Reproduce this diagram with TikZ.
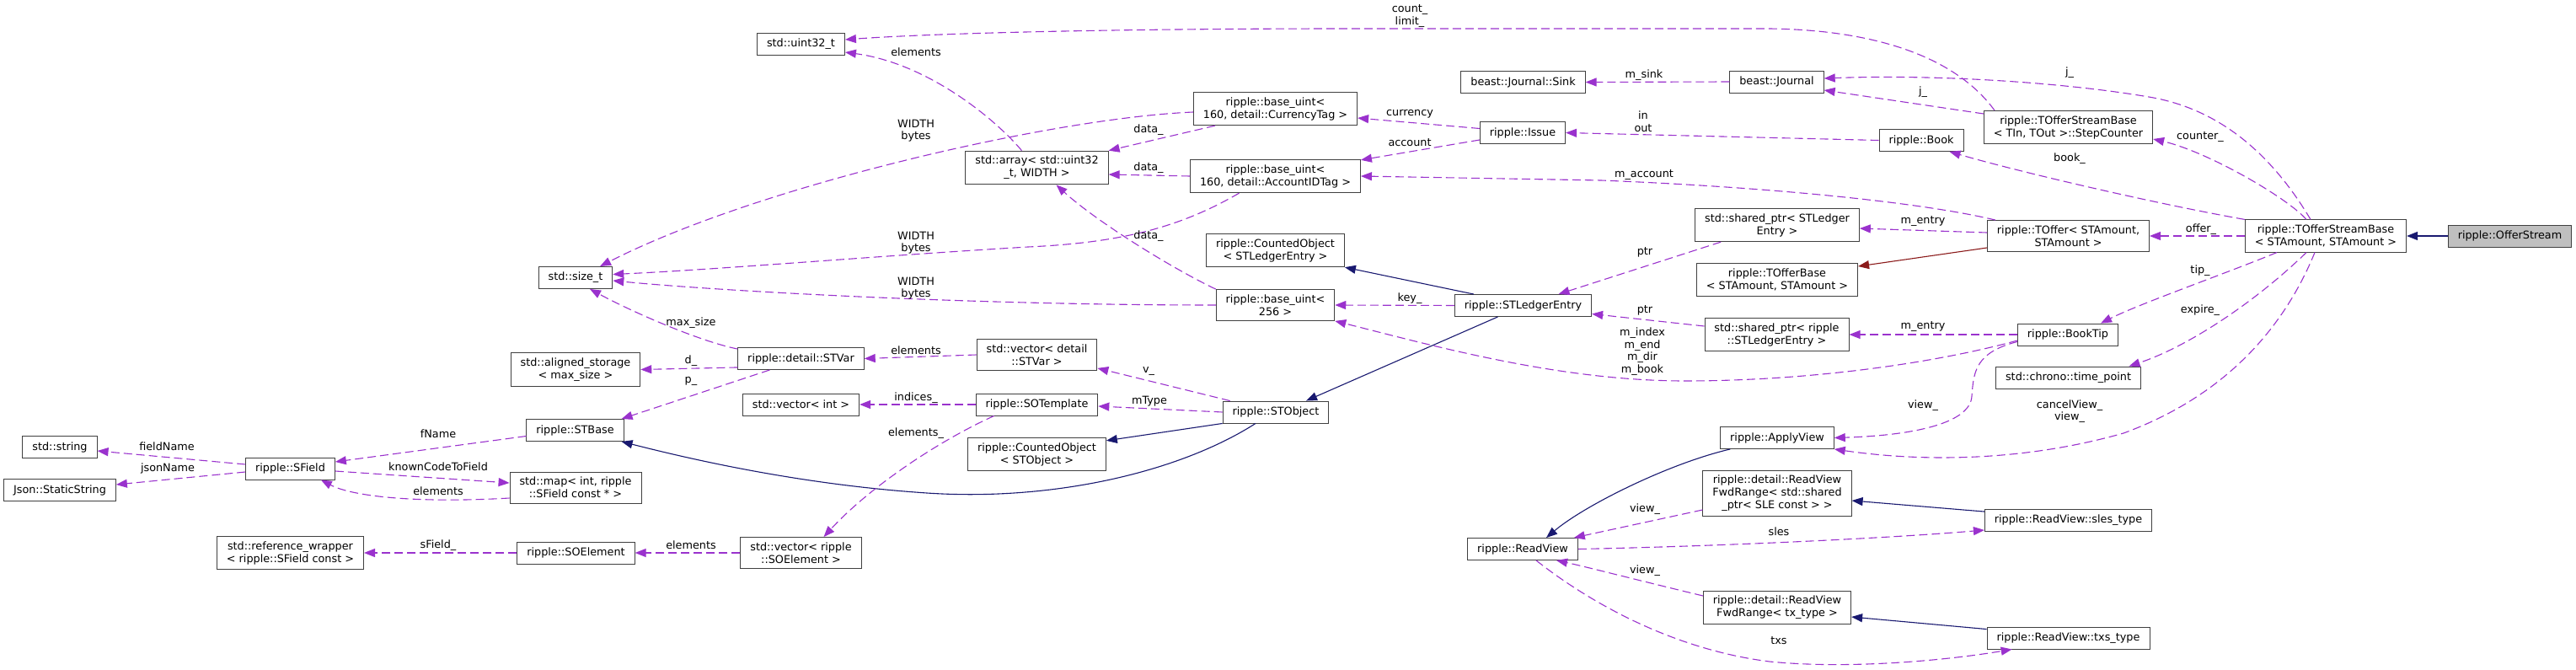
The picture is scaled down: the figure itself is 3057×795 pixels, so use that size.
\documentclass[tikz,border=0pt]{standalone}
\usepackage{fontspec}
\setmainfont{DejaVu Sans}
\usetikzlibrary{arrows.meta}

\definecolor{usecol}{HTML}{9A32CD}
\definecolor{pubcol}{HTML}{191970}
\definecolor{protcol}{HTML}{8B1A1A}
\definecolor{ofsgray}{HTML}{BFBFBF}

\begin{document}
\begin{tikzpicture}[x=1pt, y=-1pt,
    >={Triangle[length=13pt,width=10pt]},
    box/.style={draw=black!75, fill=white, line width=0.9pt, align=center,
        font=\fontsize{12.8}{15}\selectfont, inner xsep=11.5pt, inner ysep=6pt,
        minimum height=26pt},
    lbl/.style={font=\fontsize{12.8}{14.5}\selectfont, align=center, inner sep=0pt},
    use/.style={->, draw=usecol, line width=1.1pt, dash pattern=on 10pt off 5pt},
    pub/.style={->, draw=pubcol, line width=1.1pt},
    prot/.style={->, draw=protcol, line width=1.1pt}]

        \useasboundingbox (0,0) rectangle (3057,795);

        % classes
        \node[box, fill=ofsgray] (ofs) at (2978.5,280) {ripple::OfferStream};
        \node[box] (tosb) at (2760,280) {ripple::TOfferStreamBase\\< STAmount, STAmount >};
        \node[box] (stepc) at (2454.5,151) {ripple::TOfferStreamBase\\< TIn, TOut >::StepCounter};
        \node[box] (journal) at (2108.5,97) {beast::Journal};
        \node[box] (sink) at (1807.5,97.5) {beast::Journal::Sink};
        \node[box] (book) at (2280,166.5) {ripple::Book};
        \node[box] (toffer) at (2454.5,280) {ripple::TOffer< STAmount,\\STAmount >};
        \node[box] (booktip) at (2454,397) {ripple::BookTip};
        \node[box] (timept) at (2454.5,448) {std::chrono::time\_point};
        \node[box] (applyview) at (2109,519.5) {ripple::ApplyView};
        \node[box] (uint32) at (950.5,52) {std::uint32\_t};
        \node[box] (issue) at (1807,157.5) {ripple::Issue};
        \node[box] (curtag) at (1513.5,129) {ripple::base\_uint<\\160, detail::CurrencyTag >};
        \node[box] (acctag) at (1513.5,209) {ripple::base\_uint<\\160, detail::AccountIDTag >};
        \node[box] (spled) at (2109,267) {std::shared\_ptr< STLedger\\Entry >};
        \node[box] (tobase) at (2109,332) {ripple::TOfferBase\\< STAmount, STAmount >};
        \node[box] (spled2) at (2108.5,397) {std::shared\_ptr< ripple\\::STLedgerEntry >};
        \node[box] (sle) at (1807.5,362.5) {ripple::STLedgerEntry};
        \node[box] (coledger) at (1513.5,297) {ripple::CountedObject\\< STLedgerEntry >};
        \node[box] (uint256) at (1513.5,362) {ripple::base\_uint<\\256 >};
        \node[box] (stobj) at (1514,489) {ripple::STObject};
        \node[box] (stbase) at (682.5,510.5) {ripple::STBase};
        \node[box] (coobj) at (1230.5,539) {ripple::CountedObject\\< STObject >};
        \node[box] (vecstvar) at (1230.5,421) {std::vector< detail\\::STVar >};
        \node[box] (sotempl) at (1230.5,480) {ripple::SOTemplate};
        \node[box] (stvar) at (950.5,425.5) {ripple::detail::STVar};
        \node[box] (vecint) at (950.5,480) {std::vector< int >};
        \node[box] (vecsoe) at (950.5,656) {std::vector< ripple\\::SOElement >};
        \node[box] (soelem) at (683.5,656) {ripple::SOElement};
        \node[box] (refwrap) at (344.5,656) {std::reference\_wrapper\\< ripple::SField const >};
        \node[box] (aligned) at (683,438.5) {std::aligned\_storage\\< max\_size >};
        \node[box] (sizet) at (683,329.5) {std::size\_t};
        \node[box] (sfield) at (344.5,556) {ripple::SField};
        \node[box] (stdstring) at (71,530.5) {std::string};
        \node[box] (json) at (71,581.5) {Json::StaticString};
        \node[box] (smap) at (683,578.5) {std::map< int, ripple\\::SField const * >};
        \node[box] (stdarray) at (1230.5,199) {std::array< std::uint32\\\_t, WIDTH >};
        \node[box] (readview) at (1807,651.5) {ripple::ReadView};
        \node[box] (fwdsle) at (2109,585.5) {ripple::detail::ReadView\\FwdRange< std::shared\\\_ptr< SLE const > >};
        \node[box] (fwdtx) at (2109,721) {ripple::detail::ReadView\\FwdRange< tx\_type >};
        \node[box] (slestype) at (2454.5,617.5) {ripple::ReadView::sles\_type};
        \node[box] (txstype) at (2454.5,757) {ripple::ReadView::txs\_type};

        % inheritance
        \draw[pub] (ofs.west) -- (tosb.east);
        \draw[prot] ([yshift=-14pt]toffer.west) -- ([yshift=16pt]tobase.east);
        \draw[pub] ([xshift=23pt]sle.north west) -- (coledger.south east);
        \draw[pub] ([xshift=-30pt]sle.south) -- ([xshift=36pt]stobj.north);
        \draw[pub] ([xshift=-24pt]stobj.south) .. controls (1400,560) and (1250,595) .. (1100,585)
            .. controls (950,575) and (820,545) .. ([xshift=-3pt]stbase.south east);
        \draw[pub] (stobj.south west) -- ([yshift=-4pt]coobj.north east);
        \draw[pub] ([xshift=12pt]applyview.south west) .. controls (1980,550) and (1880,600) .. ([xshift=28pt]readview.north);
        \draw[pub] ([yshift=-3pt]slestype.north west) -- ([yshift=-8.5pt]fwdsle.east);
        \draw[pub] ([yshift=-3pt]txstype.north west) -- ([yshift=-11pt]fwdtx.east);

        % members of TOfferStreamBase
        \draw[use] ([xshift=-23pt]tosb.north) .. controls (2715,235) and (2620,180) .. ([yshift=-14pt]stepc.east);
        \draw[use] ([xshift=-18pt]tosb.north) .. controls (2700,190) and (2640,130) .. (2550,115)
            .. controls (2450,98) and (2300,88) .. ([yshift=4pt]journal.east);
        \draw[use] (tosb.north west) .. controls (2560,242) and (2400,205) .. ([xshift=-17pt]book.south east);
        \draw[use] (tosb.west) -- (toffer.east);
        \draw[use] ([xshift=-58pt]tosb.south) .. controls (2640,325) and (2540,360) .. ([xshift=39pt]booktip.north);
        \draw[use] ([xshift=-23pt]tosb.south) .. controls (2680,355) and (2600,410) .. ([xshift=72pt]timept.north);
        \draw[use] ([xshift=-13pt]tosb.south) .. controls (2710,390) and (2640,470) .. (2520,514)
            .. controls (2400,548) and (2280,548) .. (applyview.south east);

        % StepCounter, Journal, Book, Issue
        \draw[use] ([xshift=13pt]stepc.north west) .. controls (2330,80) and (2250,36) .. (2100,34) -- (1600,34)
            .. controls (1300,34) and (1100,40) .. ([yshift=5pt]uint32.east);
        \draw[use] ([yshift=16pt]stepc.west) -- ([yshift=-10pt]journal.east);
        \draw[use] (journal.west) -- (sink.east);
        \draw[use] (book.west) -- (issue.east);
        \draw[use] ([yshift=5pt]issue.west) -- ([yshift=-11pt]curtag.east);
        \draw[use] ([yshift=-8.5pt]issue.west) -- ([yshift=-1pt]acctag.north east);

        % TOffer, shared_ptr, BookTip
        \draw[use] ([xshift=10pt]toffer.north west) .. controls (2280,240) and (2100,222) .. (1900,214) -- (acctag.east);
        \draw[use] ([yshift=4pt]toffer.west) -- ([yshift=-4pt]spled.east);
        \draw[use] ([xshift=31pt]spled.south west) -- ([xshift=42pt]sle.north);
        \draw[use] ([yshift=10pt]spled2.west) -- ([yshift=-10pt]sle.east);
        \draw[use] (booktip.west) -- (spled2.east);
        \draw[use] ([yshift=-7pt]booktip.west) .. controls (2300,430) and (2150,452) .. (2000,452)
            .. controls (1850,452) and (1700,410) .. (uint256.south east);
        \draw[use] ([yshift=5pt]booktip.south west) .. controls (2345,418) and (2342,440) .. (2340,470)
            .. controls (2338,505) and (2260,517) .. (applyview.east);

        % STLedgerEntry, STObject, SOTemplate
        \draw[use] (sle.west) -- (uint256.east);
        \draw[use] ([xshift=9pt]stobj.north west) -- ([yshift=3pt]vecstvar.south east);
        \draw[use] (stobj.west) -- ([yshift=-2pt]sotempl.east);
        \draw[use] (vecstvar.west) -- (stvar.east);
        \draw[use] (sotempl.west) -- (vecint.east);
        \draw[use] ([xshift=22pt]sotempl.south west) .. controls (1110,525) and (1030,580) .. ([xshift=27pt]vecsoe.north);
        \draw[use] (vecsoe.west) -- (soelem.east);
        \draw[use] (soelem.west) -- (refwrap.east);

        % STVar, STBase, SField
        \draw[use] ([yshift=3pt]stvar.south west) -- (aligned.east);
        \draw[use] ([xshift=-37pt]stvar.south) -- ([xshift=-3pt]stbase.north east);
        \draw[use] ([yshift=-2pt]stvar.north west) .. controls (830,405) and (750,370) .. ([xshift=17pt]sizet.south);
        \draw[use] ([yshift=-7pt]stbase.west) -- ([yshift=8pt]sfield.east);
        \draw[use] ([yshift=5pt]sfield.west) -- ([yshift=-4.5pt]stdstring.east);
        \draw[use] ([yshift=-4pt]sfield.west) -- ([yshift=6.5pt]json.east);
        \draw[use] ([yshift=-3pt]sfield.east) -- ([yshift=5.5pt]smap.west);
        \draw[use] ([yshift=-12.5pt]smap.west) .. controls (500,597) and (420,590) .. ([xshift=-17pt]sfield.south east);

        % base_uint and std::array
        \draw[use] (uint256.north west) .. controls (1390,318) and (1300,262) .. ([xshift=23pt]stdarray.south);
        \draw[use] (uint256.west) .. controls (1150,362) and (850,345) .. ([yshift=-3.5pt]sizet.east);
        \draw[use] ([xshift=26pt]curtag.south west) -- (stdarray.north east);
        \draw[use] ([yshift=-4pt]curtag.west) .. controls (1250,140) and (900,220) .. ([xshift=29pt]sizet.north);
        \draw[use] (acctag.west) -- ([yshift=-8pt]stdarray.east);
        \draw[use] ([xshift=-43pt]acctag.south) .. controls (1400,270) and (1330,288) .. (1220,293)
            .. controls (1050,303) and (850,320) .. ([yshift=4pt]sizet.east);
        \draw[use] ([xshift=-18pt]stdarray.north) .. controls (1180,140) and (1100,75) .. ([yshift=-10pt]uint32.east);

        % ReadView
        \draw[use] ([yshift=-19.5pt]fwdsle.west) -- ([xshift=-5pt]readview.north east);
        \draw[use] (readview.east) .. controls (2050,648) and (2250,638) .. ([yshift=2pt]slestype.south west);
        \draw[use] ([yshift=14pt]fwdtx.west) .. controls (1950,690) and (1880,672) .. ([xshift=40pt]readview.south);
        \draw[use] ([xshift=16pt]readview.south) .. controls (1880,710) and (1980,770) .. (2100,785)
            .. controls (2200,795) and (2320,782) .. ([xshift=30pt]txstype.south west);

        % labels
        \node[lbl] (lCounter) at (2611,163) {counter\_};
        \node[lbl] (lJtop) at (2456,86) {j\_};
        \node[lbl] (lBook) at (2456,188) {book\_};
        \node[lbl] (lOffer) at (2612,272) {offer\_};
        \node[lbl] (lTip) at (2611,321) {tip\_};
        \node[lbl] (lExpire) at (2611,368) {expire\_};
        \node[lbl] (lCancel) at (2456,488) {cancelView\_\\view\_};
        \node[lbl] (lCount) at (1673,19) {count\_\\limit\_};
        \node[lbl] (lJlow) at (2282,109) {j\_};
        \node[lbl] (lSink) at (1951,89) {m\_sink};
        \node[lbl] (lInOut) at (1950,144) {in\\out};
        \node[lbl] (lCurrency) at (1673,135) {currency};
        \node[lbl] (lAccount) at (1673,169) {account};
        \node[lbl] (lMAccount) at (1951,208) {m\_account};
        \node[lbl] (lEntryA) at (2282,263) {m\_entry};
        \node[lbl] (lPtrA) at (1952,299) {ptr};
        \node[lbl] (lPtrB) at (1952,368) {ptr};
        \node[lbl] (lEntryB) at (2282,388) {m\_entry};
        \node[lbl] (lIndex) at (1949,417) {m\_index\\m\_end\\m\_dir\\m\_book};
        \node[lbl] (lViewA) at (2282,481) {view\_};
        \node[lbl] (lKey) at (1673,354) {key\_};
        \node[lbl] (lV) at (1363,441) {v\_};
        \node[lbl] (lMType) at (1364,476) {mType};
        \node[lbl] (lElemA) at (1087,416) {elements};
        \node[lbl] (lIndices) at (1087,472) {indices\_};
        \node[lbl] (lElemB) at (1087,514) {elements\_};
        \node[lbl] (lElemC) at (820,647) {elements};
        \node[lbl] (lSField) at (520,647) {sField\_};
        \node[lbl] (lD) at (820,428) {d\_};
        \node[lbl] (lP) at (820,452) {p\_};
        \node[lbl] (lMaxSize) at (820,383) {max\_size};
        \node[lbl] (lFName) at (520,515) {fName};
        \node[lbl] (lFieldName) at (198,530) {fieldName};
        \node[lbl] (lJsonName) at (199,556) {jsonName};
        \node[lbl] (lKnown) at (520,554) {knownCodeToField};
        \node[lbl] (lElemD) at (520,583) {elements};
        \node[lbl] (lDataA) at (1363,280) {data\_};
        \node[lbl] (lWidthA) at (1087,342) {WIDTH\\bytes};
        \node[lbl] (lDataB) at (1363,154) {data\_};
        \node[lbl] (lWidthB) at (1087,155) {WIDTH\\bytes};
        \node[lbl] (lDataC) at (1363,199) {data\_};
        \node[lbl] (lWidthC) at (1087,288) {WIDTH\\bytes};
        \node[lbl] (lElemE) at (1087,62) {elements};
        \node[lbl] (lViewB) at (1952,604) {view\_};
        \node[lbl] (lSles) at (2111,631) {sles};
        \node[lbl] (lViewC) at (1952,677) {view\_};
        \node[lbl] (lTxs) at (2111,760) {txs};

    \end{tikzpicture}
\end{document}
